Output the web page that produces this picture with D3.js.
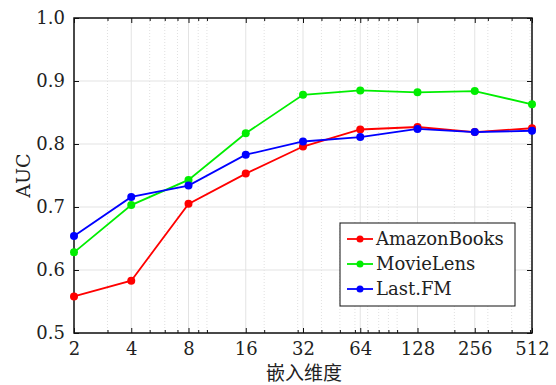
<!DOCTYPE html>
<html>
<head>
<meta charset="utf-8">
<script src="https://cdn.jsdelivr.net/npm/d3@7"></script>
<style>
  body { margin: 0; background: #fff; }
  text { font-family: "DejaVu Serif", serif; fill: #222; }
</style>
</head>
<body>
<svg width="556" height="385"></svg>
<script>
// embedding dimensions and AUC per dataset
var dims = [2, 4, 8, 16, 32, 64, 128, 256, 512];
var amazonBooks = [0.558, 0.583, 0.705, 0.753, 0.796, 0.823, 0.827, 0.819, 0.825];
var movieLens   = [0.628, 0.703, 0.743, 0.817, 0.878, 0.885, 0.882, 0.884, 0.863];
var lastFM      = [0.654, 0.716, 0.734, 0.783, 0.804, 0.811, 0.824, 0.819, 0.821];
var yTicks = [0.5, 0.6, 0.7, 0.8, 0.9, 1.0];
var minorX = [3, 5, 6, 7, 9, 10, 20, 30, 40, 50, 60, 70, 80, 90, 100, 200, 300, 400, 500];

var series = [
  { name: "AmazonBooks", values: amazonBooks, color: "#ff0000" },
  { name: "MovieLens",   values: movieLens,   color: "#00ee00" },
  { name: "Last.FM",     values: lastFM,      color: "#0000ff" }
];

var serif = "'DejaVu Serif', serif";
var svg = d3.select("svg");
var L = 74, R = 532, T = 18, B = 333;

var x = d3.scaleLog().base(2).domain([2, 512]).range([L, R]);
var y = d3.scaleLinear().domain([0.5, 1.0]).range([B, T]);

// grid
var grid = svg.append("g");
grid.selectAll(".minor").data(minorX).enter().append("line")
  .attr("x1", d => x(d)).attr("x2", d => x(d))
  .attr("y1", T).attr("y2", B)
  .attr("stroke", "#d8d8d8").attr("stroke-width", 0.8)
  .attr("stroke-dasharray", "1,2");
grid.selectAll(".majx").data(dims).enter().append("line")
  .attr("x1", d => x(d)).attr("x2", d => x(d))
  .attr("y1", T).attr("y2", B)
  .attr("stroke", "#e3e3e3").attr("stroke-width", 1);
grid.selectAll(".majy").data(yTicks).enter().append("line")
  .attr("x1", L).attr("x2", R)
  .attr("y1", d => y(d)).attr("y2", d => y(d))
  .attr("stroke", "#e3e3e3").attr("stroke-width", 1);

// axes with inward ticks
function fmt(d) { return d.toFixed(1); }
svg.append("g").attr("transform", "translate(0," + B + ")")
  .call(d3.axisBottom(x).tickValues(minorX).tickSize(-3).tickFormat(""));
svg.append("g").attr("transform", "translate(0," + T + ")")
  .call(d3.axisTop(x).tickValues(minorX).tickSize(-3).tickFormat(""));

svg.append("g").attr("transform", "translate(0," + B + ")")
  .call(d3.axisBottom(x).tickValues(dims).tickSize(-5).tickPadding(9).tickFormat(d3.format("d")));
svg.append("g").attr("transform", "translate(0," + T + ")")
  .call(d3.axisTop(x).tickValues(dims).tickSize(-5).tickFormat(""));
svg.append("g").attr("transform", "translate(" + L + ",0)")
  .call(d3.axisLeft(y).tickValues(yTicks).tickSize(-5).tickPadding(9).tickFormat(fmt));
svg.append("g").attr("transform", "translate(" + R + ",0)")
  .call(d3.axisRight(y).tickValues(yTicks).tickSize(-5).tickFormat(""));

svg.selectAll(".domain").remove();
svg.selectAll(".tick line").attr("stroke", "#111").attr("stroke-width", 1);
svg.selectAll(".tick text").attr("font-size", 18).attr("fill", "#222")
  .attr("font-family", serif);

svg.append("rect").attr("x", L).attr("y", T).attr("width", R - L).attr("height", B - T)
  .attr("fill", "none").attr("stroke", "#111").attr("stroke-width", 1.5);

// lines
var line = d3.line().x((d, i) => x(dims[i])).y(d => y(d));
series.forEach(function(s) {
  svg.append("path").datum(s.values)
    .attr("d", line).attr("fill", "none")
    .attr("stroke", s.color).attr("stroke-width", 1.8);
  svg.append("g").selectAll("circle").data(s.values).enter().append("circle")
    .attr("cx", (d, i) => x(dims[i])).attr("cy", d => y(d))
    .attr("r", 4).attr("fill", s.color);
});

// axis labels
svg.append("text").attr("x", (L + R) / 2 + 1).attr("y", 380)
  .attr("text-anchor", "middle")
  .style("font-family", "'Noto Sans CJK SC', sans-serif").style("font-size", "19px")
  .text("嵌入维度");
svg.append("text").attr("transform", "translate(30," + ((T + B) / 2) + ") rotate(-90)")
  .attr("text-anchor", "middle")
  .attr("font-size", 19).attr("font-family", serif)
  .text("AUC");

// legend
var lg = svg.append("g").attr("transform", "translate(340,223)");
lg.append("rect").attr("width", 175).attr("height", 83)
  .attr("fill", "#fff").attr("stroke", "#111").attr("stroke-width", 1);
var items = lg.selectAll(".item").data(series).enter().append("g")
  .attr("transform", (d, i) => "translate(0," + (16 + i * 25) + ")");
items.append("line").attr("x1", 7).attr("x2", 33)
  .attr("stroke", d => d.color).attr("stroke-width", 1.8);
items.append("circle").attr("cx", 20).attr("r", 3.5).attr("fill", d => d.color);
items.append("text").attr("x", 36).attr("y", 6)
  .attr("font-size", 18).attr("font-family", serif)
  .text(d => d.name);
</script>
</body>
</html>
